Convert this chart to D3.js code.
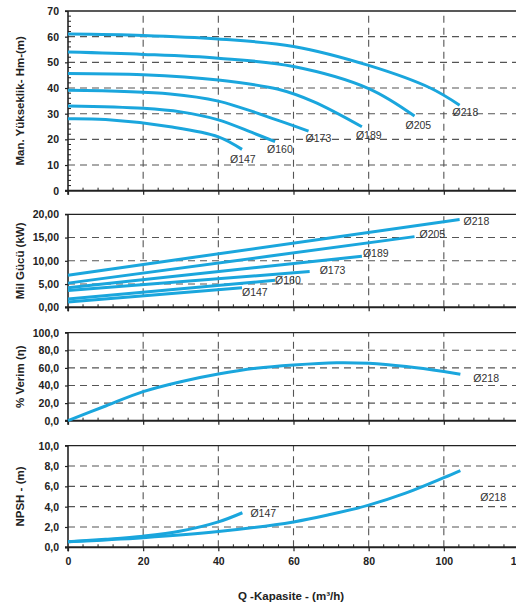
<!DOCTYPE html>
<html>
<head>
<meta charset="utf-8">
<script src="https://cdn.jsdelivr.net/npm/d3@7"></script>
<style>
body { margin: 0; background: #fff; }
text { font-family: "Liberation Sans", Arial, sans-serif; }
.axis text { font-weight: bold; font-size: 10.5px; fill: #222; }
.axis path { display: none; }
.axis line { stroke: #222; stroke-width: 1.2; }
.title { font-weight: bold; font-size: 11.5px; fill: #222; }
.curve { fill: none; stroke: #1aa6dd; stroke-width: 3; }
.grid { stroke: #555; stroke-width: 1.1; stroke-dasharray: 7,5; }
.clbl { font-size: 10.5px; fill: #333; }
</style>
</head>
<body>
<svg id="chart" width="516" height="606"></svg>
<script>
// x ticks shared by all four panels
var qTicks = [0, 20, 40, 60, 80, 100, 120];
var diameters = ["Ø147", "Ø160", "Ø173", "Ø189", "Ø205", "Ø218"];

// head curves (Q m3/h, H m)
var headQ = [
  [0, 10, 27.2, 40, 46.3],
  [0, 20, 30, 40, 49.4, 55.1],
  [0, 27.2, 40, 55.7, 64.0],
  [0, 20, 40, 55.7, 65.3, 78.2],
  [0, 20, 40, 60, 80, 92.2],
  [0, 20, 40, 60, 80, 96.4, 104.2]
];
var headH = [
  [28.0, 27.7, 24.9, 21.0, 16.1],
  [33.0, 32.1, 30.7, 27.6, 22.4, 19.1],
  [39.1, 37.7, 34.9, 27.5, 23.2],
  [45.7, 45.2, 43.1, 39.6, 34.7, 24.9],
  [54.0, 53.1, 51.6, 48.4, 39.8, 29.1],
  [61.0, 60.5, 59.1, 56.2, 48.8, 40.0, 33.3]
];

// shaft power (kW)
var powerQ = [[0, 46.3], [0, 55.1], [0, 64.3], [0, 78.2], [0, 92.2], [0, 104.2]];
var powerP = [[1.15, 4.2], [1.8, 5.8], [3.6, 7.7], [4.2, 11.0], [5.2, 15.2], [6.9, 18.9]];

// efficiency Ø218 (%)
var effQ = [0, 10, 20, 30, 40, 50, 60, 71.5, 80, 90, 100, 104.4];
var effE = [0, 16.7, 33, 44.3, 53, 59.5, 63.3, 65.9, 65.2, 61.5, 55.8, 52.7];

// NPSH (m)
var npshQ147 = [0, 10, 20, 30, 40, 46.4];
var npshN147 = [0.55, 0.79, 1.1, 1.6, 2.5, 3.4];
var npshQ218 = [0, 20, 40, 60, 70, 80, 90, 100, 104.4];
var npshN218 = [0.55, 0.95, 1.55, 2.5, 3.25, 4.15, 5.35, 6.85, 7.55];

var svg = d3.select("#chart");
var W = 516;

var x = d3.scaleLinear().domain([0, 120]).range([68, 519]);

var comma = function(n) { return function(d) { return d3.format("." + n + "f")(d).replace(".", ","); }; };

var panels = [
  {title: "Man. Yükseklik- Hm-(m)", max: 70, range: [190.7, 11], step: 10, fmt: d3.format("d"), minor: 2},
  {title: "Mil Gücü (kW)", max: 20, range: [307.3, 214.3], step: 5, fmt: comma(2)},
  {title: "% Verim (η)", max: 100, range: [420.7, 332.7], step: 20, fmt: comma(1)},
  {title: "NPSH - (m)", max: 10, range: [547.3, 445.7], step: 2, fmt: comma(1)}
];

panels.forEach(function(p, i) {
  var y = d3.scaleLinear().domain([0, p.max]).range(p.range);
  p.y = y;
  var g = svg.append("g");
  var yTicks = d3.range(0, p.max + 0.001, p.step);

  // dashed grid
  g.selectAll(".hg").data(yTicks.filter(function(d) { return d > 0 && d < p.max; }))
    .enter().append("line").attr("class", "grid")
    .attr("x1", x(0)).attr("x2", W).attr("y1", y).attr("y2", y);
  g.selectAll(".vg").data(qTicks.filter(function(d) { return d > 0; }))
    .enter().append("line").attr("class", "grid")
    .attr("x1", x).attr("x2", x).attr("y1", y(0)).attr("y2", y(p.max));

  // frame
  g.append("line").attr("x1", x(0) - 3).attr("x2", W).attr("y1", y(p.max)).attr("y2", y(p.max))
    .attr("stroke", "#222").attr("stroke-width", 1.3);
  g.append("line").attr("x1", x(0)).attr("x2", x(0)).attr("y1", y(p.max)).attr("y2", y(0) + 4)
    .attr("stroke", "#222").attr("stroke-width", 1.6);
  g.append("line").attr("x1", x(0) - 3).attr("x2", W).attr("y1", y(0)).attr("y2", y(0))
    .attr("stroke", "#222").attr("stroke-width", 2);

  // y axis
  g.append("g").attr("class", "axis")
    .attr("transform", "translate(" + x(0) + ",0)")
    .call(d3.axisLeft(y).tickValues(yTicks).tickFormat(p.fmt).tickSize(3).tickPadding(6));

  if (p.minor) {
    g.selectAll(".ym").data(d3.range(0, p.max, p.minor).filter(function(d) { return d % p.step; }))
      .enter().append("line")
      .attr("x1", x(0)).attr("x2", x(0) + 3).attr("y1", y).attr("y2", y)
      .attr("stroke", "#222").attr("stroke-width", 1);
  }

  // x axis major + minor ticks
  var xa = g.append("g").attr("class", "axis")
    .attr("transform", "translate(0," + y(0) + ")")
    .call(d3.axisBottom(x).tickValues(qTicks).tickSize(4).tickPadding(6));
  if (i < 3) xa.selectAll("text").remove();
  g.selectAll(".xm").data(d3.range(0, 120, 4).filter(function(d) { return d % 20; }))
    .enter().append("line")
    .attr("x1", x).attr("x2", x).attr("y1", y(0)).attr("y2", y(0) - 3)
    .attr("stroke", "#222").attr("stroke-width", 1);

  // y title
  var cy = (p.range[0] + p.range[1]) / 2;
  g.append("text").attr("class", "title")
    .attr("transform", "translate(20," + cy + ") rotate(-90)")
    .attr("text-anchor", "middle").attr("dy", "0.35em")
    .text(p.title);
});

svg.append("text").attr("class", "title")
  .attr("x", 291).attr("y", 600)
  .attr("text-anchor", "middle")
  .text("Q -Kapasite - (m³/h)");

function drawCurve(p, qs, vs) {
  var pts = qs.map(function(q, k) { return [x(q), p.y(vs[k])]; });
  svg.append("path").attr("class", "curve")
    .attr("d", d3.line().curve(d3.curveCatmullRom.alpha(0.5))(pts));
  return pts[pts.length - 1];
}

function label(pt, txt, dx, dy) {
  svg.append("text").attr("class", "clbl")
    .attr("x", pt[0] + dx).attr("y", pt[1] + dy).attr("dy", "0.35em")
    .text(txt);
}

// label offsets from curve ends
var headOff = [[-12, 10], [-8, 8], [-3, 7], [-6, 9], [-9, 9], [-7, 7]];
var powOff = [[0, 5], [0, 0], [10, -1], [1, -3], [5, -2], [4, 2]];

diameters.forEach(function(d, k) {
  var e = drawCurve(panels[0], headQ[k], headH[k]);
  label(e, d, headOff[k][0], headOff[k][1]);
  var e2 = drawCurve(panels[1], powerQ[k], powerP[k]);
  label(e2, d, powOff[k][0], powOff[k][1]);
});

var e3 = drawCurve(panels[2], effQ, effE);
label(e3, "Ø218", 13, 4);

var e4 = drawCurve(panels[3], npshQ147, npshN147);
label(e4, "Ø147", 8, 1);
var e5 = drawCurve(panels[3], npshQ218, npshN218);
label(e5, "Ø218", 20, 27);
</script>
</body>
</html>
